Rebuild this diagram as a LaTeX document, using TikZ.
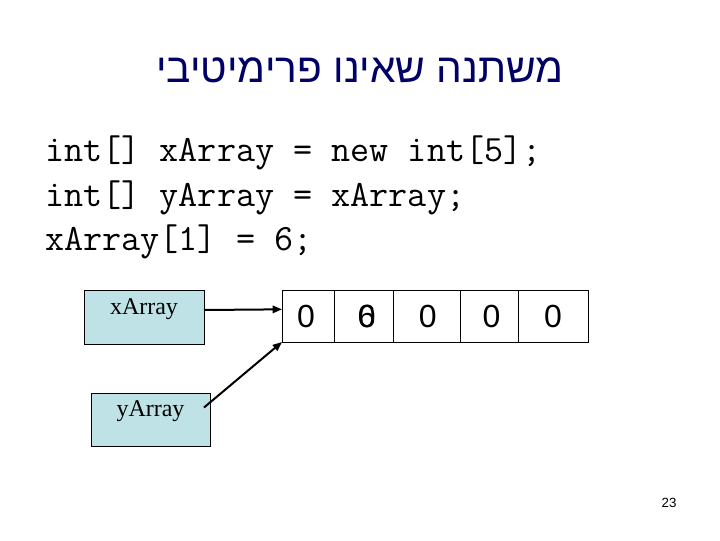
\documentclass[tikz,border=0pt]{standalone}
\usepackage{fontspec}
\setmainfont{Liberation Serif}
\setsansfont{Liberation Sans}
\newfontfamily\hebfont[Script=Hebrew]{Liberation Sans}
\TeXXeTstate=1
\usetikzlibrary{arrows.meta}
\definecolor{titlenavy}{RGB}{0,0,102}
\definecolor{boxblue}{RGB}{190,226,230}
\begin{document}
\begin{tikzpicture}[x=0.75pt,y=-0.75pt,
  codeline/.style={anchor=base west,inner sep=0pt,font=\ttfamily\fontsize{27.8}{32}\selectfont},
  varbox/.style={draw=black,line width=0.6pt,fill=boxblue,inner sep=0pt,outer sep=0pt},
  varlabel/.style={inner sep=0pt,font=\rmfamily\fontsize{18}{21}\selectfont},
  cell/.style={draw=black,line width=0.6pt,inner sep=0pt,outer sep=0pt,minimum height=39pt,font=\sffamily\fontsize{24}{28}\selectfont},
  link/.style={draw=black,line width=1.5pt,-{Triangle[length=7pt,width=5.5pt]}}]
\useasboundingbox (0,0) rectangle (720,540);
\fill[white] (0,0) rectangle (720,540);
% title
\node[text=titlenavy,font=\hebfont\fontsize{30.5}{36}\selectfont,inner sep=0pt] (title) at (360,70) {\beginR משתנה שאינו פרימיטיבי\endR};
% code
\node[codeline] (l1) at (45,161) {int[] xArray = new int[5];};
\node[codeline] (l2) at (45,206) {int[] yArray = xArray;};
\node[codeline] (l3) at (45,250) {xArray[1] = 6;};
% variable boxes
\node[varbox,minimum width=90pt,minimum height=40.5pt] (xbox) at (144,317) {};
\node[varlabel] (xlab) at (144,309) {xArray};
\node[varbox,minimum width=89.25pt,minimum height=39.75pt] (ybox) at (150.5,419.5) {};
\node[varlabel] (ylab) at (150.5,411) {yArray};
% array cells
\node[cell,minimum width=39pt] (c1) at (308,316) {\hspace*{-3pt}0};
\node[cell,minimum width=44.25pt] (c2) at (363.5,316) {\hspace*{5pt}\makebox[0pt]{0}\makebox[0pt]{6}};
\node[cell,minimum width=50.25pt] (c3) at (426.5,316) {\hspace*{2pt}0};
\node[cell,minimum width=43.5pt] (c4) at (489.5,316) {\hspace*{3pt}0};
\node[cell,minimum width=52.5pt] (c5) at (553,316) {0};
% connectors
\draw[link] ([yshift=5.25pt]xbox.east) -- ([yshift=5pt]c1.west);
\draw[link] ([xshift=-4.5pt,yshift=9pt]ybox.east) -- (c1.south west);
% page number
\node[font=\sffamily\fontsize{10}{12}\selectfont,inner sep=0pt] (pnum) at (669,503) {23};
\end{tikzpicture}
\end{document}
